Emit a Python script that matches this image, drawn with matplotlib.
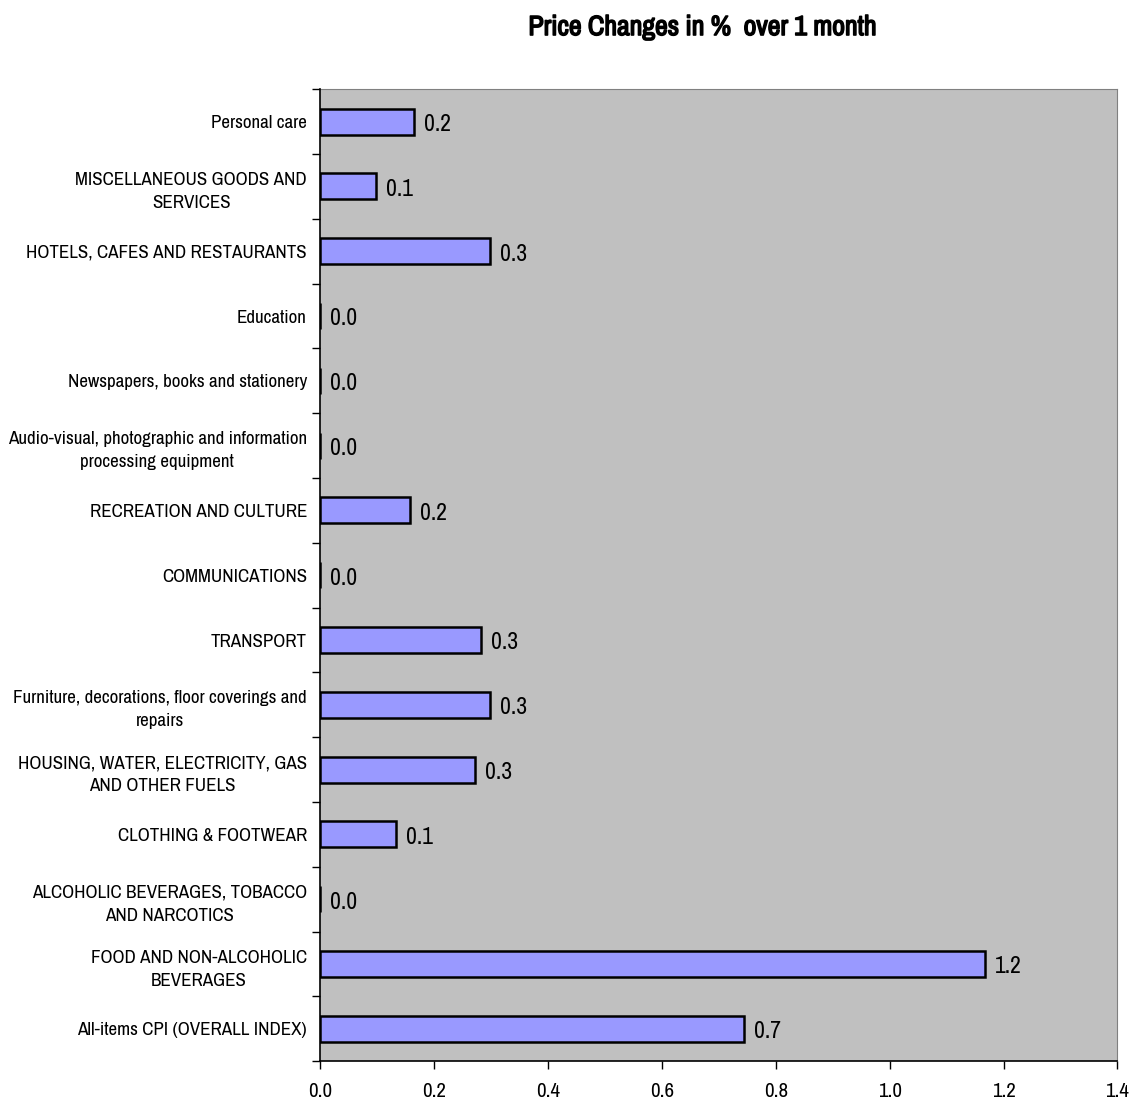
import matplotlib
matplotlib.use("Agg")
import matplotlib.pyplot as plt
import matplotlib.patheffects as pe
import numpy as np

# categories, bottom to top
categories = [
    "All-items CPI (OVERALL INDEX)",
    "FOOD AND NON-ALCOHOLIC\nBEVERAGES",
    "ALCOHOLIC BEVERAGES, TOBACCO\nAND NARCOTICS",
    "CLOTHING & FOOTWEAR",
    "HOUSING, WATER, ELECTRICITY, GAS\nAND OTHER FUELS",
    "Furniture, decorations, floor coverings and\nrepairs",
    "TRANSPORT",
    "COMMUNICATIONS",
    "RECREATION AND CULTURE",
    "Audio-visual, photographic and information\nprocessing equipment",
    "Newspapers, books and stationery",
    "Education",
    "HOTELS, CAFES AND RESTAURANTS",
    "MISCELLANEOUS GOODS AND\nSERVICES",
    "Personal care",
]
values = [0.745, 1.168, 0.0, 0.133, 0.272, 0.299, 0.283, 0.0, 0.158, 0.0, 0.0, 0.0, 0.299, 0.098, 0.165]
xticks = [0.0, 0.2, 0.4, 0.6, 0.8, 1.0, 1.2, 1.4]

plt.rcParams['font.family'] = ['Archivo Narrow', 'Liberation Sans', 'DejaVu Sans']

fig = plt.figure(figsize=(11.31, 11.02), dpi=100)
ax = fig.add_axes([0.283, 0.037, 0.705, 0.882])
ax.set_facecolor('#C0C0C0')

y = np.arange(len(categories))
ax.barh(y, values, height=0.4, color='#9999FF', edgecolor='black', linewidth=1.8, zorder=3)

for yi, v in zip(y, values):
    ax.annotate(f"{v:.1f}", (v, yi), xytext=(7, -2), textcoords='offset points',
                ha='left', va='center', fontsize=17)

ax.set_xlim(0, 1.4)
ax.set_ylim(-0.5, len(categories) - 0.5)
ax.set_xticks(xticks)
ax.set_xticklabels([f"{t:.1f}" for t in xticks], fontsize=15)
ax.set_yticks(y)
ax.set_yticklabels(categories, fontsize=13.7, ha='right', multialignment='center', linespacing=1.55)
ax.tick_params(axis='y', length=0, pad=9.5)
ax.set_yticks(np.arange(-0.5, len(categories), 1.0), minor=True)
ax.tick_params(axis='y', which='minor', length=6, width=1, direction='out')
ax.tick_params(axis='x', length=6, width=1, direction='out', pad=9)

ax.spines['left'].set_linewidth(1.2)
ax.spines['bottom'].set_linewidth(1.2)
ax.spines['left'].set_zorder(4)
ax.spines['top'].set_color('#808080')
ax.spines['right'].set_color('#808080')

fig.text(0.621, 0.975, "Price Changes in %  over 1 month", ha='center', va='center',
         fontsize=20, fontweight='bold',
         path_effects=[pe.withStroke(linewidth=1.1, foreground='black')])

fig.savefig("out.png", dpi=100)
